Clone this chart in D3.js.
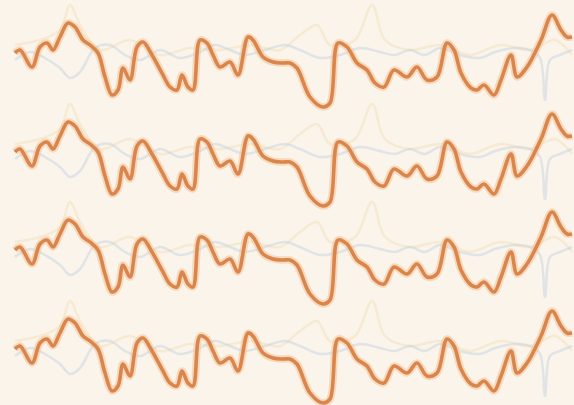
<!DOCTYPE html>
<html>
<head>
<meta charset="utf-8">
<script src="https://cdn.jsdelivr.net/npm/d3@7"></script>
<style>
  html, body { margin: 0; padding: 0; background: #faf4ea; }
  svg { display: block; }
</style>
</head>
<body>
<div id="chart"></div>
<script>
// four stacked copies of the same trace
var rowOffsets = [0, 99, 197, 296];

// main (orange) trace: time, value
var orangeT = [0,5,17,25,32,38,45,53,60,68,75,83,90,97,103,108,115,122,128,137,148,155,162,167,173,178,185,192,198,205,215,223,233,238,248,258,268,275,282,295,308,315,323,332,342,352,360,369,379,392,402,412,422,432,439,446,456,462,469,479,486,496,502,512,526,537,546,552,557];
var orangeV = [57,60,43,63,67,60,73,87,83,70,65,57,33,15,20,42,30,63,68,55,35,23,20,35,23,20,70,67,55,43,48,35,73,70,53,48,47,47,42,13,3,7,67,63,47,40,27,23,40,33,43,30,33,67,60,37,22,20,25,15,30,55,33,43,70,95,80,73,73];

// faint blue trace
var blueT = [0,15,30,45,55,65,80,95,110,125,145,165,185,200,215,230,250,270,285,305,325,345,365,380,395,410,425,445,465,480,500,515,525,530,535,545,557];
var blueV = [50,58,52,42,32,38,62,65,55,50,60,52,58,65,60,55,60,65,60,52,55,62,58,55,60,55,62,55,52,58,62,60,52,10,50,55,60];

// faint yellow trace
var yellowT = [0,25,45,55,65,85,115,145,175,205,235,265,285,302,315,340,357,370,395,425,455,485,515,540,557];
var yellowV = [65,70,80,105,85,60,70,55,62,60,65,60,75,85,65,70,105,70,60,65,55,65,60,70,55];

var width = 574, height = 405;

var svg = d3.select("#chart")
  .append("svg")
    .attr("width", width)
    .attr("height", height);

svg.append("rect")
  .attr("width", width)
  .attr("height", height)
  .attr("fill", "#faf4ea");

var x = d3.scaleLinear()
  .domain([0, 557])
  .range([15, 572]);

var y = d3.scaleLinear()
  .domain([0, 110])
  .range([110, 0]);

var line = d3.line()
  .x(function(d) { return x(d[0]); })
  .y(function(d) { return y(d[1]); })
  .curve(d3.curveCatmullRom.alpha(0.5));

var orange = d3.zip(orangeT, orangeV),
    blue = d3.zip(blueT, blueV),
    yellow = d3.zip(yellowT, yellowV);

var rows = svg.selectAll("g.row")
  .data(rowOffsets)
  .enter()
  .append("g")
    .attr("class", "row")
    .attr("transform", function(d) { return "translate(0," + d + ")"; });

rows.append("path")
  .attr("d", line(yellow))
  .attr("fill", "none")
  .attr("stroke", "#f3dcae")
  .attr("stroke-width", 2.5)
  .attr("stroke-linejoin", "round")
  .attr("opacity", 0.4);

rows.append("path")
  .attr("d", line(blue))
  .attr("fill", "none")
  .attr("stroke", "#b9cde0")
  .attr("stroke-width", 2.5)
  .attr("stroke-linejoin", "round")
  .attr("opacity", 0.4);

rows.append("path")
  .attr("d", line(orange))
  .attr("fill", "none")
  .attr("stroke", "#f4bf92")
  .attr("stroke-width", 7.5)
  .attr("stroke-linejoin", "round")
  .attr("opacity", 0.5);

rows.append("path")
  .attr("d", line(orange))
  .attr("fill", "none")
  .attr("stroke", "#d9854b")
  .attr("stroke-width", 3.6)
  .attr("stroke-linejoin", "round");
</script>
</body>
</html>
